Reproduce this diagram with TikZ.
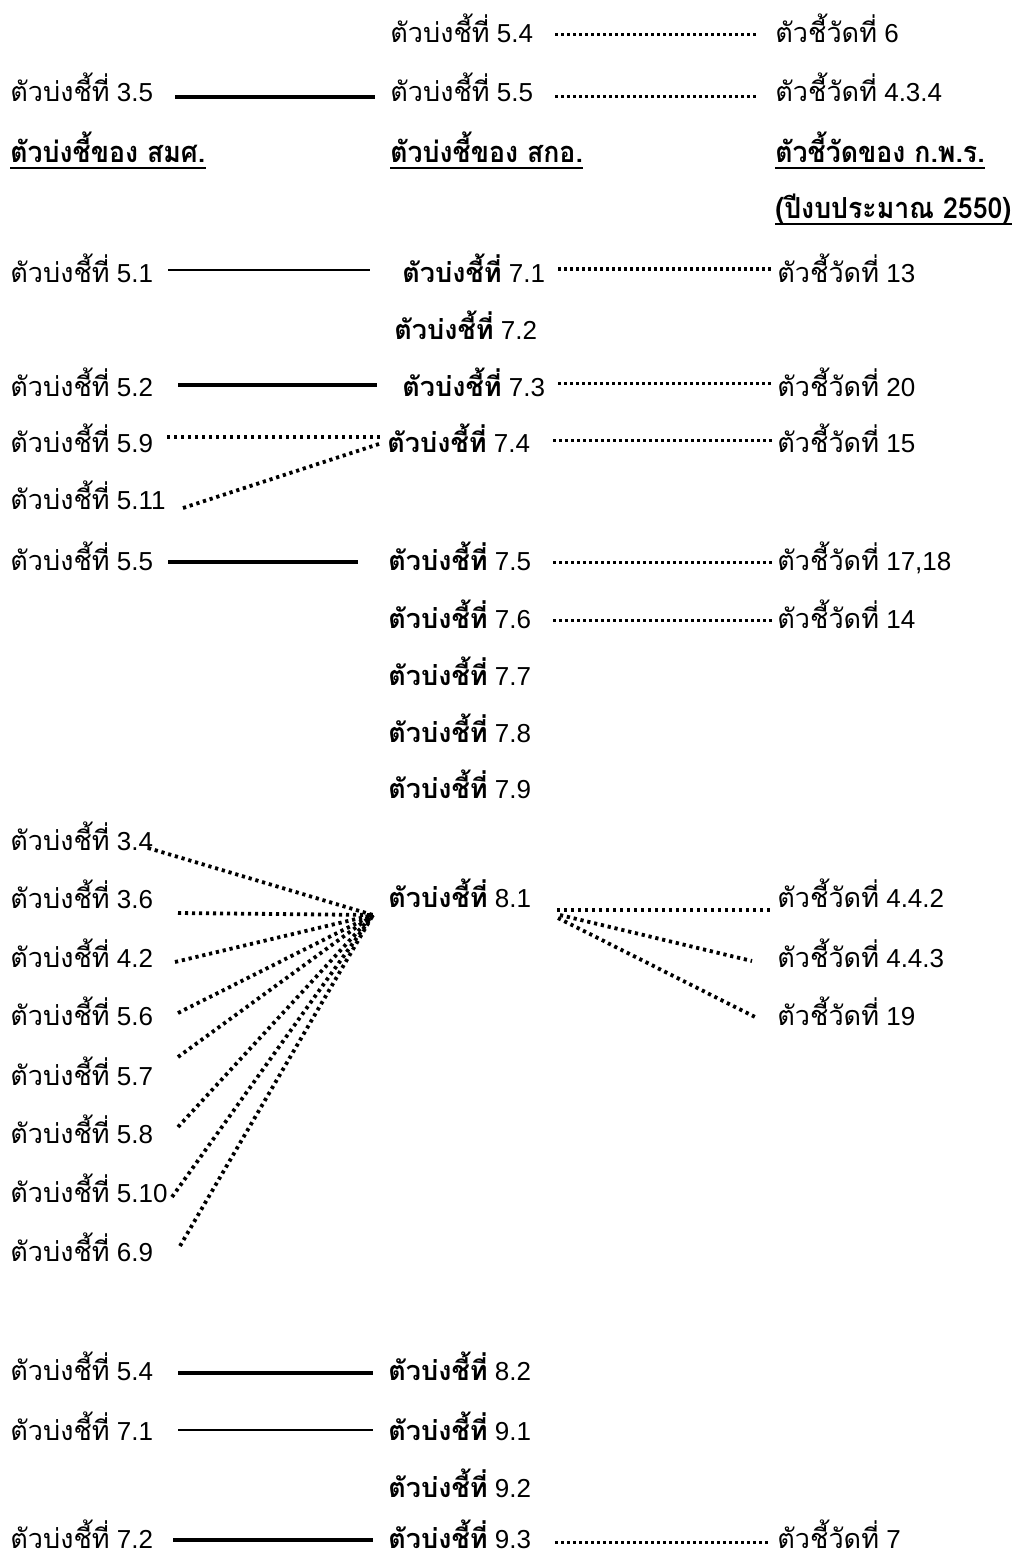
\documentclass[tikz,border=0pt]{standalone}
\usepackage{fontspec}
\usetikzlibrary{calc}
\setmainfont{Liberation Sans}
\newfontfamily\thaifont[Script=Thai,Scale=1.04]{Loma}
\newfontfamily\thaihdr[Script=Thai,FakeStretch=0.92]{Loma}
\newcommand\TB{{\thaifont ตัวบ่งชี้ที่}}
\newcommand\TBb{{\thaifont\bfseries ตัวบ่งชี้ที่}}
\newcommand\TC{{\thaifont ตัวชี้วัดที่}}
\begin{document}
\begin{tikzpicture}[x=0.5pt,y=-0.5pt,
  lbl/.style={anchor=base west, inner sep=0pt, font=\fontsize{13}{15}\selectfont},
  hdr/.style={anchor=base west, inner sep=0pt, font=\fontsize{14.5}{17}\selectfont\thaihdr\bfseries},
  thickline/.style={line width=2.3pt},
  thinline/.style={line width=0.9pt},
  dotfine/.style={line width=1.5pt, dash pattern=on 1.5pt off 1.5pt},
  dotbold/.style={line width=1.9pt, dash pattern=on 1.6pt off 1.9pt},
  uline/.style={line width=1pt}]
\useasboundingbox (0,0) rectangle (1016,1557);
% left column
\node[lbl] (l35) at (10,102) {\TB\ 3.5};
\node[lbl] (l51) at (10,282) {\TB\ 5.1};
\node[lbl] (l52) at (10,396) {\TB\ 5.2};
\node[lbl] (l59) at (10,452) {\TB\ 5.9};
\node[lbl] (l511) at (10,509) {\TB\ 5.11};
\node[lbl] (l55) at (10,570) {\TB\ 5.5};
\node[lbl] (l34) at (10,850) {\TB\ 3.4};
\node[lbl] (l36) at (10,908) {\TB\ 3.6};
\node[lbl] (l42) at (10,967) {\TB\ 4.2};
\node[lbl] (l56) at (10,1025) {\TB\ 5.6};
\node[lbl] (l57) at (10,1085) {\TB\ 5.7};
\node[lbl] (l58) at (10,1143) {\TB\ 5.8};
\node[lbl] (l510) at (10,1202) {\TB\ 5.10};
\node[lbl] (l69) at (10,1261) {\TB\ 6.9};
\node[lbl] (l54) at (10,1380) {\TB\ 5.4};
\node[lbl] (l71) at (10,1440) {\TB\ 7.1};
\node[lbl] (l72) at (10,1548) {\TB\ 7.2};
% middle column
\node[lbl] (m54) at (390,43) {\TB\ 5.4};
\node[lbl] (m55) at (390,102) {\TB\ 5.5};
\node[lbl] (m71) at (402,282) {\TBb\ 7.1};
\node[lbl] (m72) at (394,339) {\TBb\ 7.2};
\node[lbl] (m73) at (402,396) {\TBb\ 7.3};
\node[lbl] (m74) at (387,452) {\TBb\ 7.4};
\node[lbl] (m75) at (388,570) {\TBb\ 7.5};
\node[lbl] (m76) at (388,628) {\TBb\ 7.6};
\node[lbl] (m77) at (388,685) {\TBb\ 7.7};
\node[lbl] (m78) at (388,742) {\TBb\ 7.8};
\node[lbl] (m79) at (388,798) {\TBb\ 7.9};
\node[lbl] (m81) at (388,907) {\TBb\ 8.1};
\node[lbl] (m82) at (388,1380) {\TBb\ 8.2};
\node[lbl] (m91) at (388,1440) {\TBb\ 9.1};
\node[lbl] (m92) at (388,1497) {\TBb\ 9.2};
\node[lbl] (m93) at (388,1548) {\TBb\ 9.3};
% right column
\node[lbl] (r6) at (775,43) {\TC\ 6};
\node[lbl] (r434) at (775,102) {\TC\ 4.3.4};
\node[lbl] (r13) at (777,282) {\TC\ 13};
\node[lbl] (r20) at (777,396) {\TC\ 20};
\node[lbl] (r15) at (777,452) {\TC\ 15};
\node[lbl] (r1718) at (777,570) {\TC\ 17,18};
\node[lbl] (r14) at (777,628) {\TC\ 14};
\node[lbl] (r442) at (777,907) {\TC\ 4.4.2};
\node[lbl] (r443) at (777,967) {\TC\ 4.4.3};
\node[lbl] (r19) at (777,1025) {\TC\ 19};
\node[lbl] (r7) at (777,1548) {\TC\ 7};
% headers
\node[hdr] (h1) at (10,163) {ตัวบ่งชี้ของ สมศ.};
\node[hdr] (h2) at (390,163) {ตัวบ่งชี้ของ สกอ.};
\node[hdr] (h3) at (775,163) {ตัวชี้วัดของ ก.พ.ร.};
\node[hdr] (h4) at (775,219) {(ปีงบประมาณ 2550)};
\foreach \h in {h1,h2,h3,h4}
  \draw[uline] ($(\h.base west)+(0,5)$) -- ($(\h.base east)+(0,5)$);
% connectors top
\draw[dotfine] ($(m54.base west)+(165,-8)$) -- ($(r6.base west)+(-17,-8)$);
\draw[thickline] ($(l35.base west)+(165,-5)$) -- ($(m55.base west)+(-15,-5)$);
\draw[dotfine] ($(m55.base west)+(165,-5)$) -- ($(r434.base west)+(-17,-5)$);
% block 7.x
\draw[thinline] ($(l51.base west)+(158,-12)$) -- ($(m71.base west)+(-32,-12)$);
\draw[dotfine] ($(m71.base west)+(156,-13)$) -- ($(r13.base west)+(-5,-13)$);
\draw[thickline] ($(l52.base west)+(168,-11)$) -- ($(m73.base west)+(-25,-11)$);
\draw[dotfine] ($(m73.base west)+(156,-13)$) -- ($(r20.base west)+(-5,-13)$);
\draw[dotbold] ($(l59.base west)+(157,-15)$) -- ($(m74.base west)+(-7,-15)$);
\draw[dotbold] ($(l511.base west)+(173,-1)$) -- ($(m74.base west)+(-5,-9)$);
\draw[dotfine] ($(m74.base west)+(166,-12)$) -- ($(r15.base west)+(-5,-12)$);
\draw[thickline] ($(l55.base west)+(158,-8)$) -- ($(m75.base west)+(-30,-8)$);
\draw[dotfine] ($(m75.base west)+(165,-8)$) -- ($(r1718.base west)+(-5,-8)$);
\draw[dotfine] ($(m76.base west)+(165,-8)$) -- ($(r14.base west)+(-5,-8)$);
% fan into 8.1
\coordinate (c81) at ($(m81.base west)+(-15,8)$);
\draw[dotbold] ($(l34.base west)+(138,-2)$) -- (c81);
\draw[dotbold] ($(l36.base west)+(168,5)$) -- (c81);
\draw[dotbold] ($(l42.base west)+(165,-5)$) -- (c81);
\draw[dotbold] ($(l56.base west)+(168,-12)$) -- (c81);
\draw[dotbold] ($(l57.base west)+(168,-28)$) -- (c81);
\draw[dotbold] ($(l58.base west)+(168,-16)$) -- (c81);
\draw[dotbold] ($(l510.base west)+(162,-5)$) -- (c81);
\draw[dotbold] ($(l69.base west)+(170,-15)$) -- (c81);
% fan out of 8.1
\draw[dotbold] ($(m81.base west)+(169,3)$) -- ($(r442.base west)+(-7,3)$);
\draw[dotbold] ($(m81.base west)+(172,8)$) -- ($(r443.base west)+(-25,-6)$);
\draw[dotbold] ($(m81.base west)+(170,11)$) -- ($(r19.base west)+(-20,-7)$);
% bottom block
\draw[thickline] ($(l54.base west)+(168,-7)$) -- ($(m82.base west)+(-15,-7)$);
\draw[thinline] ($(l71.base west)+(168,-10)$) -- ($(m91.base west)+(-15,-10)$);
\draw[thickline] ($(l72.base west)+(163,-8)$) -- ($(m93.base west)+(-15,-8)$);
\draw[dotfine] ($(m93.base west)+(167,-6)$) -- ($(r7.base west)+(-7,-6)$);
\end{tikzpicture}
\end{document}
